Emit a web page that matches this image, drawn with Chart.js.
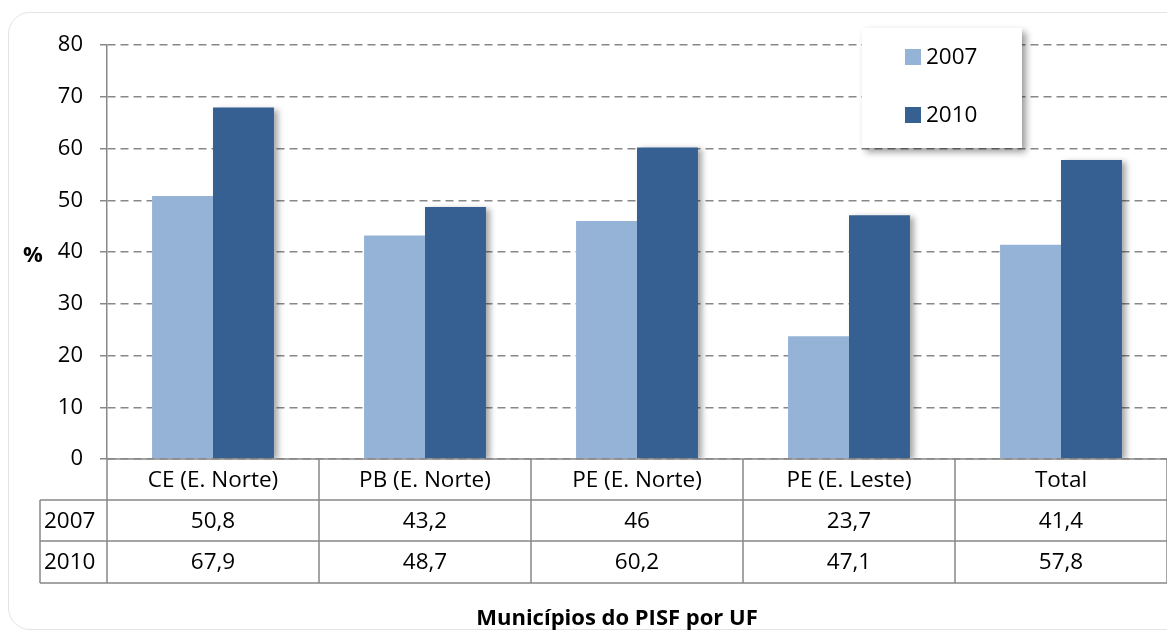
<!DOCTYPE html>
<html>
<head>
<meta charset="utf-8">
<script src="https://cdn.jsdelivr.net/npm/chart.js@4/dist/chart.umd.min.js"></script>
<style>
  body { margin: 0; background: #fff; overflow: hidden; }
  #card { position: absolute; left: 8px; top: 12px; width: 1200px; height: 616px;
          border: 1px solid #e4e4e4; border-radius: 22px; background: #fff; }
  #Canvas { position: absolute; left: 0; top: 0; }
</style>
</head>
<body>
<div id="card"></div>
<canvas id="Canvas" width="1167" height="635"></canvas>
<script>
const categories = ["CE (E. Norte)", "PB (E. Norte)", "PE (E. Norte)", "PE (E. Leste)", "Total"];
const seriesNames = ["2007", "2010"];
const values2007 = [50.8, 43.2, 46, 23.7, 41.4];
const values2010 = [67.9, 48.7, 60.2, 47.1, 57.8];
const yMin = 0, yMax = 80, yStep = 10;
const xTitle = "Municípios do PISF por UF";
const yTitle = "%";

const colors = ["#95b3d7", "#366092"];
const FONT = "'Open Sans', sans-serif";
const lineCol = "#888888";

function fmt(v) { return String(v).replace(".", ","); }

// shadow only behind the dark bars (right side of each pair)
const shadowPlugin = {
  id: "barShadow",
  beforeDatasetDraw(chart, args) {
    const c = chart.ctx;
    c.save();
    if (args.index === 1) {
      c.shadowColor = "rgba(0,0,0,0.35)";
      c.shadowBlur = 6;
      c.shadowOffsetX = 4;
      c.shadowOffsetY = 2;
    }
  },
  afterDatasetDraw(chart) { chart.ctx.restore(); }
};

const tablePlugin = {
  id: "dataTable",
  afterDraw(chart) {
    const c = chart.ctx;
    const a = chart.chartArea;
    const x = chart.scales.x;
    const w = (a.right - a.left) / categories.length;
    const rows = [a.bottom, a.bottom + 41, a.bottom + 82, a.bottom + 124];
    const labelLeft = 40;
    c.save();
    c.strokeStyle = lineCol;
    c.lineWidth = 1.5;
    c.beginPath();
    c.moveTo(a.left, rows[0]); c.lineTo(a.right, rows[0]);
    for (let r = 1; r < rows.length; r++) {
      c.moveTo(labelLeft, rows[r]); c.lineTo(a.right, rows[r]);
    }
    for (let i = 0; i <= categories.length; i++) {
      const bx = a.left + i * w;
      c.moveTo(bx, rows[0]); c.lineTo(bx, rows[3]);
    }
    c.moveTo(labelLeft, rows[1]); c.lineTo(labelLeft, rows[3]);
    c.stroke();

    c.fillStyle = "#000";
    c.font = "22.5px " + FONT;
    c.textAlign = "center";
    c.textBaseline = "middle";
    const series = [values2007, values2010];
    categories.forEach((cat, i) => {
      const cx = x.getPixelForValue(i);
      c.fillText(cat, cx, (rows[0] + rows[1]) / 2 + 1);
      c.fillText(fmt(series[0][i]), cx, (rows[1] + rows[2]) / 2 + 1);
      c.fillText(fmt(series[1][i]), cx, (rows[2] + rows[3]) / 2 + 1);
    });
    c.textAlign = "left";
    seriesNames.forEach((s, k) => {
      c.fillText(s, labelLeft + 4, (rows[k + 1] + rows[k + 2]) / 2 + 1);
    });

    // axis titles
    c.font = "bold 22px " + FONT;
    c.textAlign = "center";
    c.fillText(xTitle, 617, 619);
    c.fillText(yTitle, 33, (a.top + a.bottom) / 2 + 4);

    // legend box
    const lx = 862, ly = 28, lw = 160, lh = 120;
    c.save();
    c.shadowColor = "rgba(0,0,0,0.4)";
    c.shadowBlur = 7;
    c.shadowOffsetX = 4;
    c.shadowOffsetY = 4;
    c.fillStyle = "#fff";
    c.fillRect(lx, ly, lw, lh);
    c.restore();
    c.font = "22.5px " + FONT;
    c.textAlign = "left";
    seriesNames.forEach((s, k) => {
      const cy = 57 + k * 58;
      c.fillStyle = colors[k];
      c.fillRect(905, cy - 8, 16, 16);
      c.fillStyle = "#000";
      c.fillText(s, 926, cy + 1);
    });
    c.restore();
  }
};

new Chart(document.getElementById("Canvas").getContext("2d"), {
  type: "bar",
  data: {
    labels: categories,
    datasets: [
      { label: seriesNames[0], data: values2007, backgroundColor: colors[0] },
      { label: seriesNames[1], data: values2010, backgroundColor: colors[1] }
    ]
  },
  options: {
    responsive: false,
    devicePixelRatio: 1,
    animation: false,
    categoryPercentage: 0.575,
    barPercentage: 1,
    layout: { padding: { top: 45, right: 0, left: 0, bottom: 0 } },
    plugins: { legend: { display: false }, tooltip: { enabled: false } },
    scales: {
      x: {
        ticks: { display: false },
        grid: { display: false },
        border: { display: false },
        afterFit(s) { s.height = 176; }
      },
      y: {
        min: yMin, max: yMax,
        ticks: { stepSize: yStep, color: "#000", font: { family: FONT, size: 22 }, padding: 17 },
        grid: { color: lineCol, lineWidth: 1.5, tickLength: 7, tickColor: lineCol, tickBorderDash: [] },
        border: { display: true, color: lineCol, width: 1.5, dash: [8, 5] },
        afterFit(s) { s.width = 107; }
      }
    }
  },
  plugins: [shadowPlugin, tablePlugin]
});
</script>
</body>
</html>
